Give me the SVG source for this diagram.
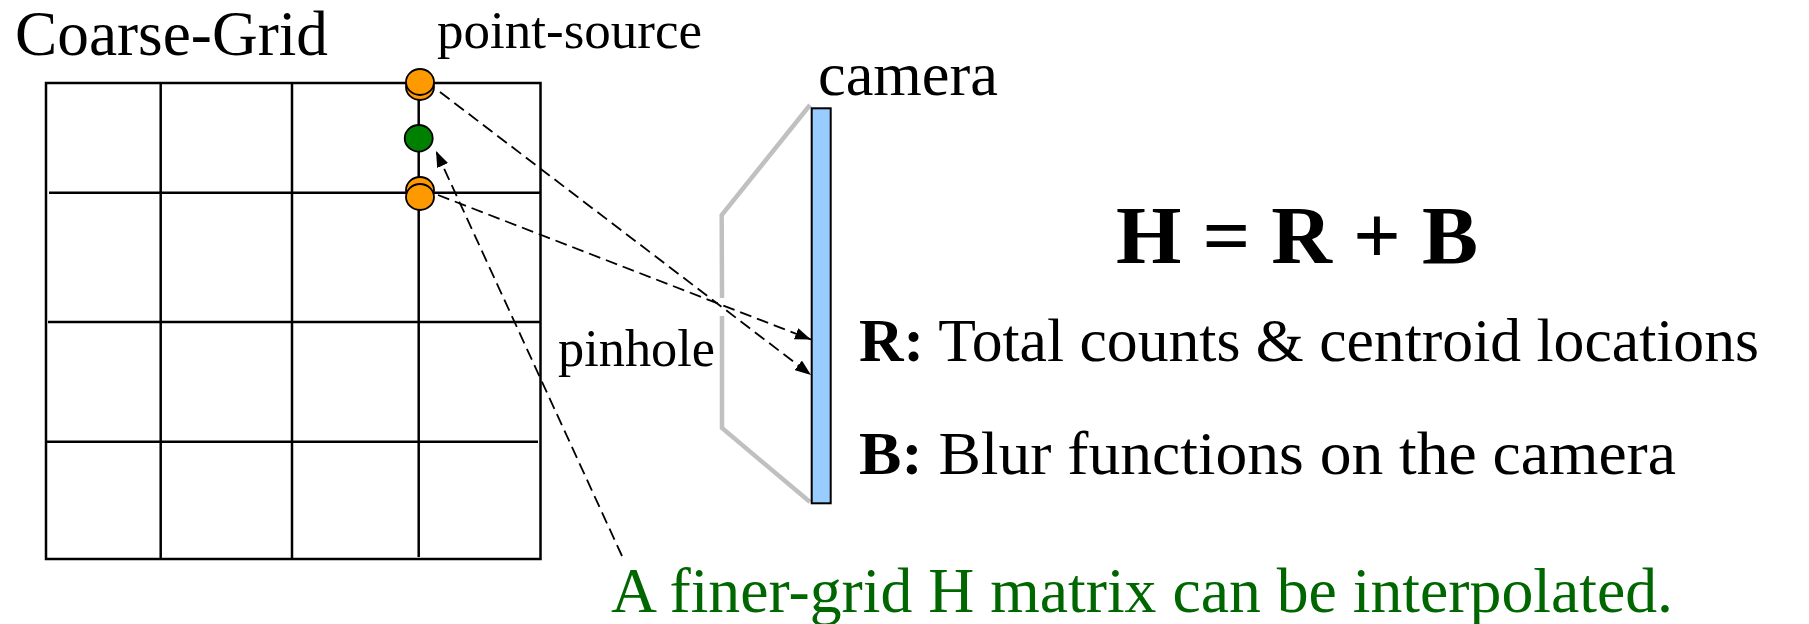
<svg xmlns="http://www.w3.org/2000/svg" width="1809" height="624" viewBox="0 0 1809 624">
<defs>
<style>
.t{font-family:'Liberation Serif',serif;fill:#000}
.g{stroke:#000;stroke-width:2.5;fill:none}
.dash{stroke:#000;stroke-width:1.8;fill:none;stroke-dasharray:12 6}
.orange{fill:#FF9900;stroke:#000;stroke-width:1.8}
.green{fill:#008000;stroke:#000;stroke-width:1.8}
.gray{stroke:#C0C0C0;stroke-width:4.5;fill:none}
</style>
<marker id="ah" viewBox="0 0 16 12" refX="16" refY="6" markerWidth="16" markerHeight="12" markerUnits="userSpaceOnUse" orient="auto">
<path d="M0,0 L16,6 L0,12 z" fill="#000"/>
</marker>
</defs>
<rect width="1809" height="624" fill="#fff"/>
<g id="grid">
<rect class="g" x="46" y="83" width="494.5" height="476"/>
<line class="g" x1="160.7" y1="83" x2="160.7" y2="559"/>
<line class="g" x1="292" y1="83" x2="292" y2="559" stroke-width="2"/>
<line class="g" x1="418.7" y1="83" x2="418.7" y2="557" stroke-width="3"/>
<line class="g" x1="49" y1="192.7" x2="540" y2="192.7"/>
<line class="g" x1="48" y1="322" x2="540" y2="322" stroke-width="3"/>
<line class="g" x1="46" y1="441.7" x2="538" y2="441.7"/>
</g>
<g id="camera">
<polyline class="gray" points="810,105 721.7,215 722,298"/>
<polyline class="gray" points="722,316 722,428 810,502"/>
<rect x="811.7" y="108.3" width="19" height="395" fill="#99CCFF" stroke="#000" stroke-width="2"/>
</g>
<g id="connectors">
<line class="dash" x1="440" y1="92" x2="811" y2="375" marker-end="url(#ah)"/>
<line class="dash" x1="438" y1="195" x2="811" y2="339.5" marker-end="url(#ah)"/>
<line class="dash" x1="622" y1="556" x2="436" y2="151" marker-end="url(#ah)"/>
</g>
<g id="source-top">
<ellipse class="orange" cx="420" cy="87" rx="14" ry="13"/>
<ellipse class="orange" cx="420" cy="82" rx="14" ry="13"/>
</g>
<g id="source-mid">
<ellipse class="green" cx="418.7" cy="138.3" rx="14" ry="13.3"/>
</g>
<g id="source-bottom">
<ellipse class="orange" cx="420" cy="190" rx="14" ry="13"/>
<ellipse class="orange" cx="420" cy="197" rx="14" ry="13"/>
</g>
<g id="labels">
<text class="t" x="15" y="55" font-size="63" textLength="313" lengthAdjust="spacingAndGlyphs">Coarse-Grid</text>
<text class="t" x="437" y="48" font-size="53" textLength="265" lengthAdjust="spacingAndGlyphs">point-source</text>
<text class="t" x="818" y="95" font-size="62" textLength="180" lengthAdjust="spacingAndGlyphs">camera</text>
<text class="t" x="558" y="366" font-size="53" textLength="157" lengthAdjust="spacingAndGlyphs">pinhole</text>
<text class="t" x="1116" y="263" font-size="83" font-weight="bold" textLength="362" lengthAdjust="spacingAndGlyphs">H = R + B</text>
<text class="t" x="859" y="361" font-size="61" textLength="900" lengthAdjust="spacingAndGlyphs"><tspan font-weight="bold">R:</tspan> Total counts &amp; centroid locations</text>
<text class="t" x="859" y="474" font-size="61" textLength="817" lengthAdjust="spacingAndGlyphs"><tspan font-weight="bold">B:</tspan> Blur functions on the camera</text>
<text class="t" x="611" y="612" font-size="64" style="fill:#006600" textLength="1062" lengthAdjust="spacingAndGlyphs">A finer-grid H matrix can be interpolated.</text>
</g>
</svg>
